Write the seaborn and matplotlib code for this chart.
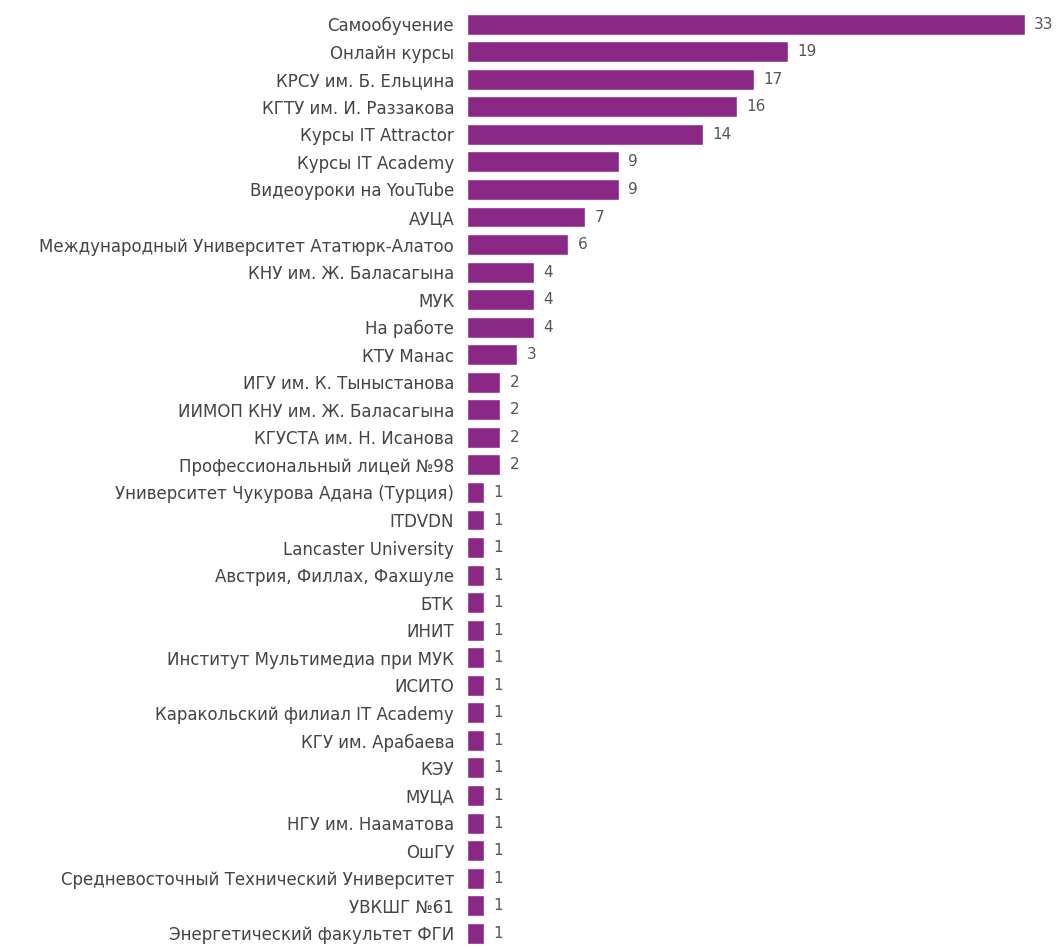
import matplotlib
matplotlib.use('Agg')
from matplotlib import pyplot as plt
import seaborn as sns
import pandas as pd

places = [
    'Самообучение', 'Онлайн курсы', 'КРСУ им. Б. Ельцина', 'КГТУ им. И. Раззакова',
    'Курсы IT Attractor', 'Курсы IT Academy', 'Видеоуроки на YouTube', 'АУЦА',
    'Международный Университет Ататюрк-Алатоо', 'КНУ им. Ж. Баласагына', 'МУК',
    'На работе', 'КТУ Манас', 'ИГУ им. К. Тыныстанова', 'ИИМОП КНУ им. Ж. Баласагына',
    'КГУСТА им. Н. Исанова', 'Профессиональный лицей №98',
    'Университет Чукурова Адана (Турция)', 'ITDVDN', 'Lancaster University',
    'Австрия, Филлах, Фахшуле', 'БТК', 'ИНИТ', 'Институт Мультимедиа при МУК',
    'ИСИТО', 'Каракольский филиал IT Academy', 'КГУ им. Арабаева', 'КЭУ', 'МУЦА',
    'НГУ им. Нааматова', 'ОшГУ', 'Средневосточный Технический Университет',
    'УВКШГ №61', 'Энергетический факультет ФГИ',
]
counts = [33, 19, 17, 16, 14, 9, 9, 7, 6, 4, 4, 4, 3, 2, 2, 2, 2,
          1, 1, 1, 1, 1, 1, 1, 1, 1, 1, 1, 1, 1, 1, 1, 1, 1]

df = pd.DataFrame({'place': places, 'count': counts})

sns.set_style('white')
plt.rcParams['font.family'] = ['DejaVu Sans']

fig = plt.figure(figsize=(10.63, 9.47), dpi=100)
ax = fig.add_axes([0.439, 0.0, 0.525, 0.989])
sns.barplot(data=df, x='count', y='place', color='#8b2886', width=0.76, ax=ax, saturation=1)

for i, v in enumerate(counts):
    ax.text(v + 0.55, i, str(v), va='center', ha='left', fontsize=11, color='#555555', clip_on=False)

ax.set_xlim(0, 33)
ax.set_ylim(len(places) - 0.5, -0.5)
ax.set_xlabel('')
ax.set_ylabel('')
ax.set_xticks([])
ax.tick_params(axis='y', length=0, pad=9, labelsize=12, labelcolor='#444444')
sns.despine(ax=ax, left=True, bottom=True)

fig.savefig('out.png', dpi=100)
